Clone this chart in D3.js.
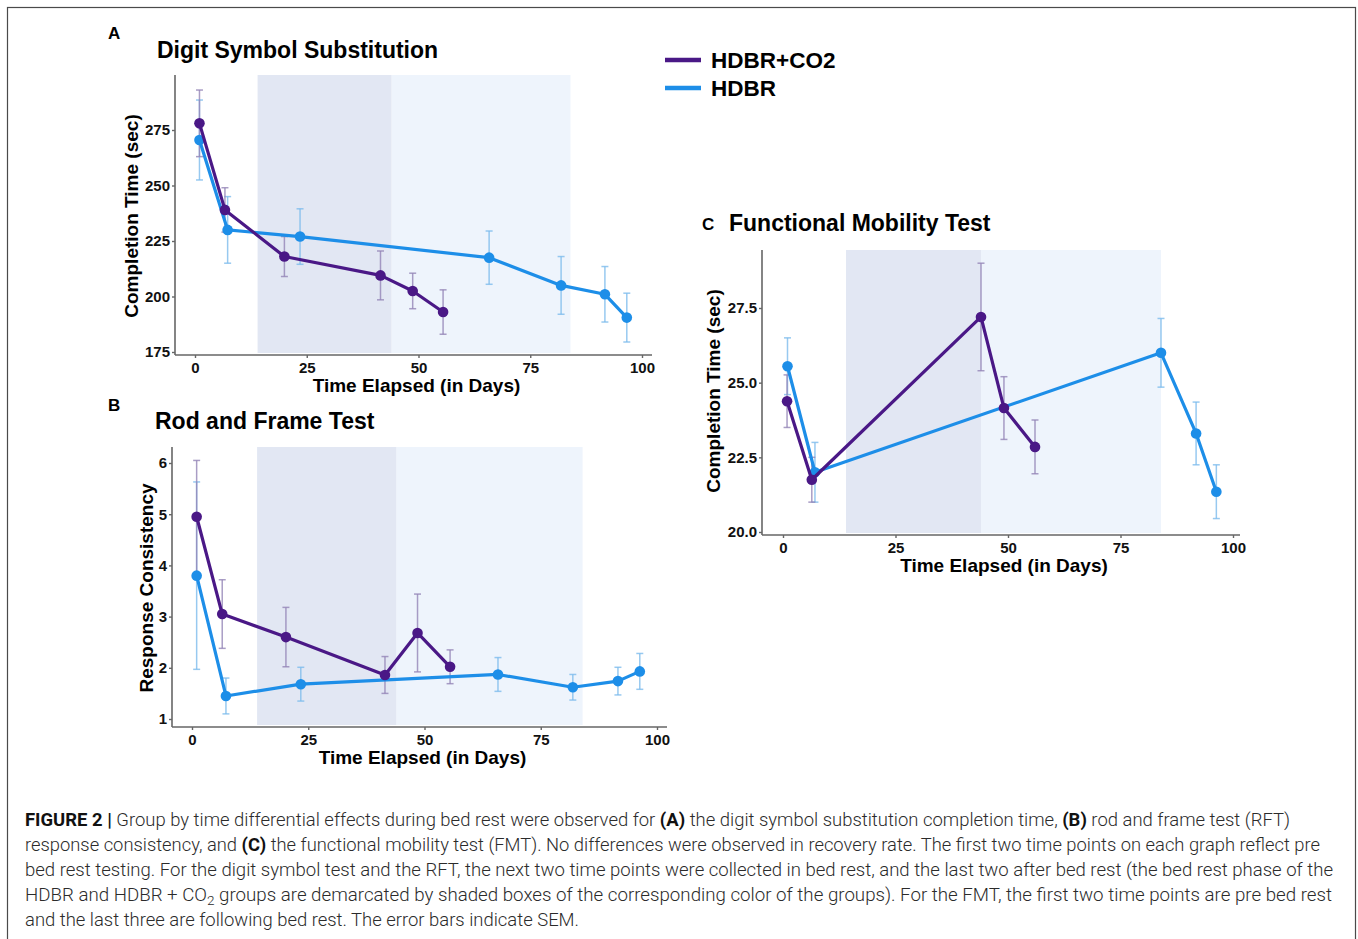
<!DOCTYPE html>
<html>
<head>
<meta charset="utf-8">
<script src="https://cdn.jsdelivr.net/npm/d3@7"></script>
<style>
  html, body { margin: 0; padding: 0; background: #fff; }
  svg { display: block; }
  svg text { font-family: "Liberation Sans", Arial, Helvetica, sans-serif; }
  svg text.cap { font-family: "Roboto", "Liberation Sans", sans-serif; font-weight: 300; }
</style>
</head>
<body>
<div id="chart"></div>
<script>
// --- Veriler (resimden okunmuş tahmini değerler) ---
const groups = ["HDBR+CO2", "HDBR"];
const xTicks = [0, 25, 50, 75, 100];

// A: Digit Symbol Substitution
const daysA_co2 = [1, 6.7, 20, 41.5, 48.7, 55.5];
const timeA_co2 = [278, 239, 218, 209.5, 202.5, 193];
const semA_co2 = [15, 10, 9, 11, 8, 10];
const daysA_hdbr = [1, 7.3, 23.5, 65.8, 81.9, 91.7, 96.6];
const timeA_hdbr = [270.5, 230, 227, 217.5, 205, 201, 190.5];
const semA_hdbr = [18, 15, 12.5, 12, 13, 12.5, 11];
const yTicksA = [175, 200, 225, 250, 275];

// B: Rod and Frame Test
const daysB_co2 = [1, 6.5, 20.2, 41.5, 48.5, 55.5];
const rcB_co2 = [4.95, 3.05, 2.6, 1.86, 2.68, 2.02];
const semB_co2 = [1.1, 0.67, 0.58, 0.36, 0.76, 0.33];
const daysB_hdbr = [1, 7.3, 23.4, 65.8, 81.9, 91.6, 96.3];
const rcB_hdbr = [3.8, 1.45, 1.68, 1.87, 1.62, 1.74, 1.93];
const semB_hdbr = [1.83, 0.35, 0.33, 0.33, 0.25, 0.27, 0.35];
const yTicksB = [1, 2, 3, 4, 5, 6];

// C: Functional Mobility Test
const daysC_co2 = [0.9, 6.4, 44, 49.1, 56];
const timeC_co2 = [24.38, 21.75, 27.2, 24.15, 22.85];
const semC_co2 = [0.88, 0.75, 1.8, 1.05, 0.9];
const daysC_hdbr = [1, 7.1, 84, 91.8, 96.3];
const timeC_hdbr = [25.55, 22.0, 26.0, 23.3, 21.35];
const semC_hdbr = [0.95, 1.0, 1.15, 1.05, 0.9];
const yTicksC = [20.0, 22.5, 25.0, 27.5];

// Yatak istirahati dönemleri (gün)
const bedRestCo2 = [14, 44];
const bedRestHdbr = [44, 84];

// Renkler
const purple = "#4a1886";
const blue = "#1d8ee8";
const purpleErr = "#9384b6";
const blueErr = "#7dbcec";
const shadeDark = "#e2e7f3";
const shadeLight = "#eef4fc";

const svg = d3.select("#chart").append("svg")
  .attr("width", 1358)
  .attr("height", 939);

// Dış çerçeve
svg.append("rect")
  .attr("x", 7.5).attr("y", 7.5)
  .attr("width", 1348).attr("height", 940)
  .attr("fill", "none")
  .attr("stroke", "#4a4a4a")
  .attr("stroke-width", 1.2);

function zipSeries(days, vals, sems) {
  return days.map((d, i) => ({ day: d, v: vals[i], se: sems[i] }));
}

// Bir paneli çizen fonksiyon
function drawPanel(p) {
  const x = d3.scaleLinear().domain([0, 100]).range([p.x0, p.x100]);
  const y = d3.scaleLinear().domain(p.yDomain).range(p.yRange);
  const g = svg.append("g");

  // Gölgeli kutular
  g.append("rect")
    .attr("x", x(bedRestCo2[0])).attr("y", p.top)
    .attr("width", x(bedRestCo2[1]) - x(bedRestCo2[0]))
    .attr("height", p.bottom - p.top - 2)
    .attr("fill", shadeDark);
  g.append("rect")
    .attr("x", x(bedRestHdbr[0])).attr("y", p.top)
    .attr("width", x(bedRestHdbr[1]) - x(bedRestHdbr[0]))
    .attr("height", p.bottom - p.top - 2)
    .attr("fill", shadeLight);

  // Eksenler
  const yAxis = g.append("g")
    .attr("transform", `translate(${p.left},0)`)
    .call(d3.axisLeft(y).tickValues(p.yTicks).tickSize(3).tickSizeOuter(0)
      .tickFormat(p.yFormat));
  yAxis.select(".domain").attr("d", `M0,${p.top}V${p.bottom}`);

  const xAxis = g.append("g")
    .attr("transform", `translate(0,${p.bottom})`)
    .call(d3.axisBottom(x).tickValues(xTicks).tickSize(3).tickSizeOuter(0));
  xAxis.select(".domain").attr("d", `M${p.left},0H${p.right}`);

  [xAxis, yAxis].forEach(ax => {
    ax.attr("font-family", null).attr("font-size", null);
    ax.select(".domain").attr("stroke", "#666").attr("stroke-width", 1.6);
    ax.selectAll(".tick line").attr("stroke", "#666").attr("stroke-width", 1.4);
    ax.selectAll(".tick text")
      .attr("fill", "#111")
      .attr("font-weight", "bold")
      .attr("font-size", 15);
  });
  xAxis.selectAll(".tick text").attr("dy", "0.78em");
  yAxis.selectAll(".tick text").attr("x", -5);

  // Eksen başlıkları
  g.append("text")
    .attr("x", (p.left + p.right) / 2 + 3).attr("y", p.bottom + 37)
    .attr("text-anchor", "middle")
    .attr("font-weight", "bold").attr("font-size", 19)
    .text("Time Elapsed (in Days)");
  g.append("text")
    .attr("transform", `translate(${p.yLabelX},${p.yLabelY}) rotate(-90)`)
    .attr("text-anchor", "middle")
    .attr("font-weight", "bold").attr("font-size", 19)
    .text(p.yLabel);

  // Panel harfi ve başlık
  g.append("text")
    .attr("x", p.letterX).attr("y", p.letterY)
    .attr("font-weight", "bold").attr("font-size", 17)
    .text(p.letter);
  g.append("text")
    .attr("x", p.titleX).attr("y", p.titleY)
    .attr("font-weight", "bold").attr("font-size", 23)
    .text(p.title);

  // Seriler: önce HDBR (mavi), sonra HDBR+CO2 (mor)
  const series = [
    { data: p.hdbr, color: blue, err: blueErr },
    { data: p.co2, color: purple, err: purpleErr }
  ];

  // Hata çubukları
  series.forEach(s => {
    const eb = g.append("g")
      .attr("stroke", s.err)
      .attr("stroke-width", 1.5)
      .attr("stroke-opacity", 0.8);
    eb.selectAll("line.v").data(s.data).join("line").attr("class", "v")
      .attr("x1", d => x(d.day)).attr("x2", d => x(d.day))
      .attr("y1", d => y(d.v - d.se)).attr("y2", d => y(d.v + d.se));
    eb.selectAll("line.t").data(s.data).join("line").attr("class", "t")
      .attr("x1", d => x(d.day) - 3.5).attr("x2", d => x(d.day) + 3.5)
      .attr("y1", d => y(d.v + d.se)).attr("y2", d => y(d.v + d.se));
    eb.selectAll("line.b").data(s.data).join("line").attr("class", "b")
      .attr("x1", d => x(d.day) - 3.5).attr("x2", d => x(d.day) + 3.5)
      .attr("y1", d => y(d.v - d.se)).attr("y2", d => y(d.v - d.se));
  });

  // Çizgiler ve noktalar
  const line = d3.line().x(d => x(d.day)).y(d => y(d.v));
  series.forEach(s => {
    g.append("path")
      .datum(s.data)
      .attr("d", line)
      .attr("fill", "none")
      .attr("stroke", s.color)
      .attr("stroke-width", 3.2)
      .attr("stroke-linejoin", "round");
    g.append("g").selectAll("circle").data(s.data).join("circle")
      .attr("cx", d => x(d.day)).attr("cy", d => y(d.v))
      .attr("r", 5.3)
      .attr("fill", s.color);
  });
}

drawPanel({
  letter: "A", letterX: 108, letterY: 39,
  title: "Digit Symbol Substitution", titleX: 157, titleY: 58,
  x0: 195, x100: 642, left: 175, right: 652, top: 75, bottom: 355,
  yDomain: [175, 275], yRange: [352, 130], yTicks: yTicksA,
  yFormat: d3.format("d"),
  yLabel: "Completion Time (sec)", yLabelX: 138, yLabelY: 216,
  co2: zipSeries(daysA_co2, timeA_co2, semA_co2),
  hdbr: zipSeries(daysA_hdbr, timeA_hdbr, semA_hdbr)
});

drawPanel({
  letter: "B", letterX: 108, letterY: 411,
  title: "Rod and Frame Test", titleX: 155, titleY: 429,
  x0: 192, x100: 657, left: 172, right: 667, top: 447, bottom: 727,
  yDomain: [1, 6], yRange: [719, 463], yTicks: yTicksB,
  yFormat: d3.format("d"),
  yLabel: "Response Consistency", yLabelX: 153, yLabelY: 588,
  co2: zipSeries(daysB_co2, rcB_co2, semB_co2),
  hdbr: zipSeries(daysB_hdbr, rcB_hdbr, semB_hdbr)
});

drawPanel({
  letter: "C", letterX: 702, letterY: 230,
  title: "Functional Mobility Test", titleX: 729, titleY: 231,
  x0: 783, x100: 1233, left: 762, right: 1240, top: 250, bottom: 535,
  yDomain: [20, 27.5], yRange: [532, 308], yTicks: yTicksC,
  yFormat: d3.format(".1f"),
  yLabel: "Completion Time (sec)", yLabelX: 720, yLabelY: 391,
  co2: zipSeries(daysC_co2, timeC_co2, semC_co2),
  hdbr: zipSeries(daysC_hdbr, timeC_hdbr, semC_hdbr)
});

// Lejant
const legend = svg.append("g").attr("transform", "translate(665,60)");
groups.forEach((name, i) => {
  const row = legend.append("g").attr("transform", `translate(0,${i * 28})`);
  row.append("line")
    .attr("x1", 0).attr("x2", 36)
    .attr("stroke", i === 0 ? purple : blue)
    .attr("stroke-width", 4.5);
  row.append("text")
    .attr("x", 46).attr("y", 8)
    .attr("font-weight", "bold").attr("font-size", 22.5)
    .text(name);
});

// Altyazı (caption) — parçalar: [metin, tür]
const captionLines = [
  { w: 1265, parts: [["FIGURE 2 |", "b"], [" Group by time differential effects during bed rest were observed for ", ""], ["(A)", "b"], [" the digit symbol substitution completion time, ", ""], ["(B)", "b"], [" rod and frame test (RFT)", ""]] },
  { w: 1295, parts: [["response consistency, and ", ""], ["(C)", "b"], [" the functional mobility test (FMT). No differences were observed in recovery rate. The first two time points on each graph reflect pre", ""]] },
  { w: 1308, parts: [["bed rest testing. For the digit symbol test and the RFT, the next two time points were collected in bed rest, and the last two after bed rest (the bed rest phase of the", ""]] },
  { w: 1307, parts: [["HDBR and HDBR + CO", ""], ["2", "sub"], [" groups are demarcated by shaded boxes of the corresponding color of the groups). For the FMT, the first two time points are pre bed rest", "after"]] },
  { w: 554, parts: [["and the last three are following bed rest. The error bars indicate SEM.", ""]] }
];
captionLines.forEach((ln, i) => {
  const t = svg.append("text")
    .attr("class", "cap")
    .attr("x", 25).attr("y", 826 + i * 25)
    .attr("fill", "#2b2b2b")
    .attr("font-size", 18)
    .attr("textLength", ln.w)
    .attr("lengthAdjust", "spacingAndGlyphs");
  ln.parts.forEach(([txt, kind]) => {
    const ts = t.append("tspan").text(txt);
    if (kind === "b") ts.attr("font-weight", "bold").attr("fill", "#111");
    if (kind === "sub") ts.attr("dy", 4).attr("font-size", 13);
    if (kind === "after") ts.attr("dy", -4);
  });
});
</script>
</body>
</html>
